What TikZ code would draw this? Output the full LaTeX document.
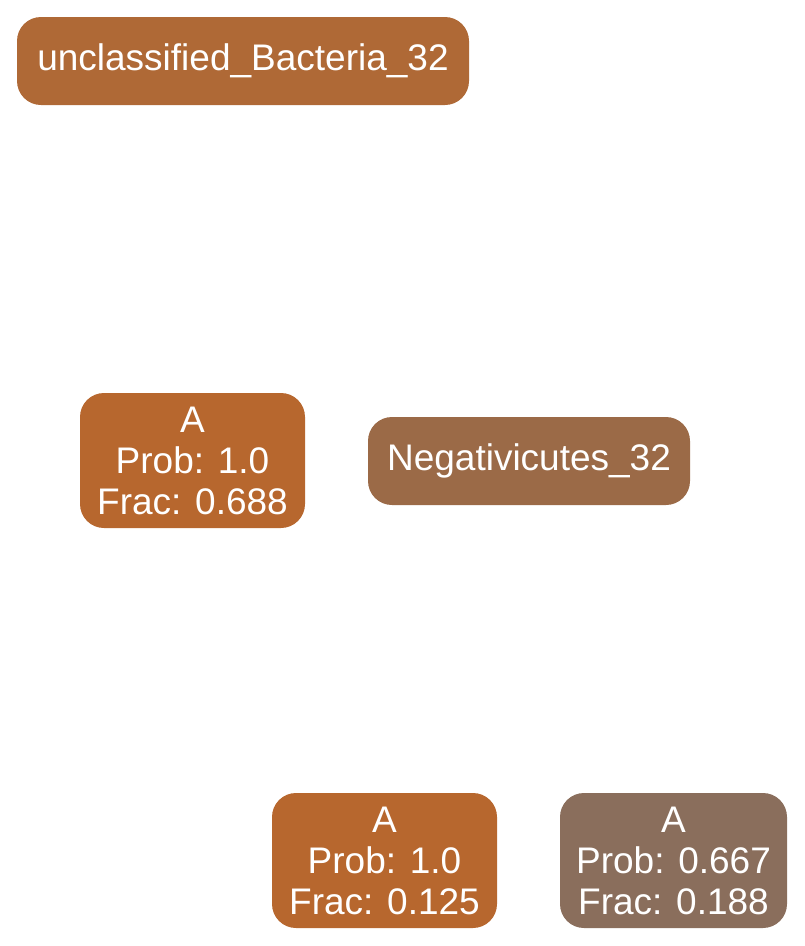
\documentclass[tikz,border=0pt]{standalone}
\usepackage{fontspec}
\setmainfont{Liberation Sans}
\definecolor{cA}{HTML}{AF6936}
\definecolor{cB}{HTML}{B7672E}
\definecolor{cC}{HTML}{9B6A47}
\definecolor{cD}{HTML}{8A6E5C}
\tikzset{
  taxbox/.style={rounded corners=24pt, inner sep=0pt, align=center, text=white,
    font=\fontsize{37}{41}\selectfont, minimum height=88pt},
}
\begin{document}
\begin{tikzpicture}[x=1pt,y=-1pt]
\useasboundingbox (0,0) rectangle (804,946);
\node[taxbox, fill=cA, minimum width=452pt] (n1) at (243,61) {unclassified\_Bacteria\_32};
\node[taxbox, fill=cB, minimum width=225pt, minimum height=135pt] (a1) at (192.5,460.5) {A\\Prob: 1.0\\Frac: 0.688};
\node[taxbox, fill=cC, minimum width=322pt] (neg) at (529,461) {Negativicutes\_32};
\node[taxbox, fill=cB, minimum width=225pt, minimum height=135pt] (a2) at (384.5,860.5) {A\\Prob: 1.0\\Frac: 0.125};
\node[taxbox, fill=cD, minimum width=227pt, minimum height=135pt] (a3) at (673.5,860.5) {A\\Prob: 0.667\\Frac: 0.188};
\end{tikzpicture}
\end{document}
